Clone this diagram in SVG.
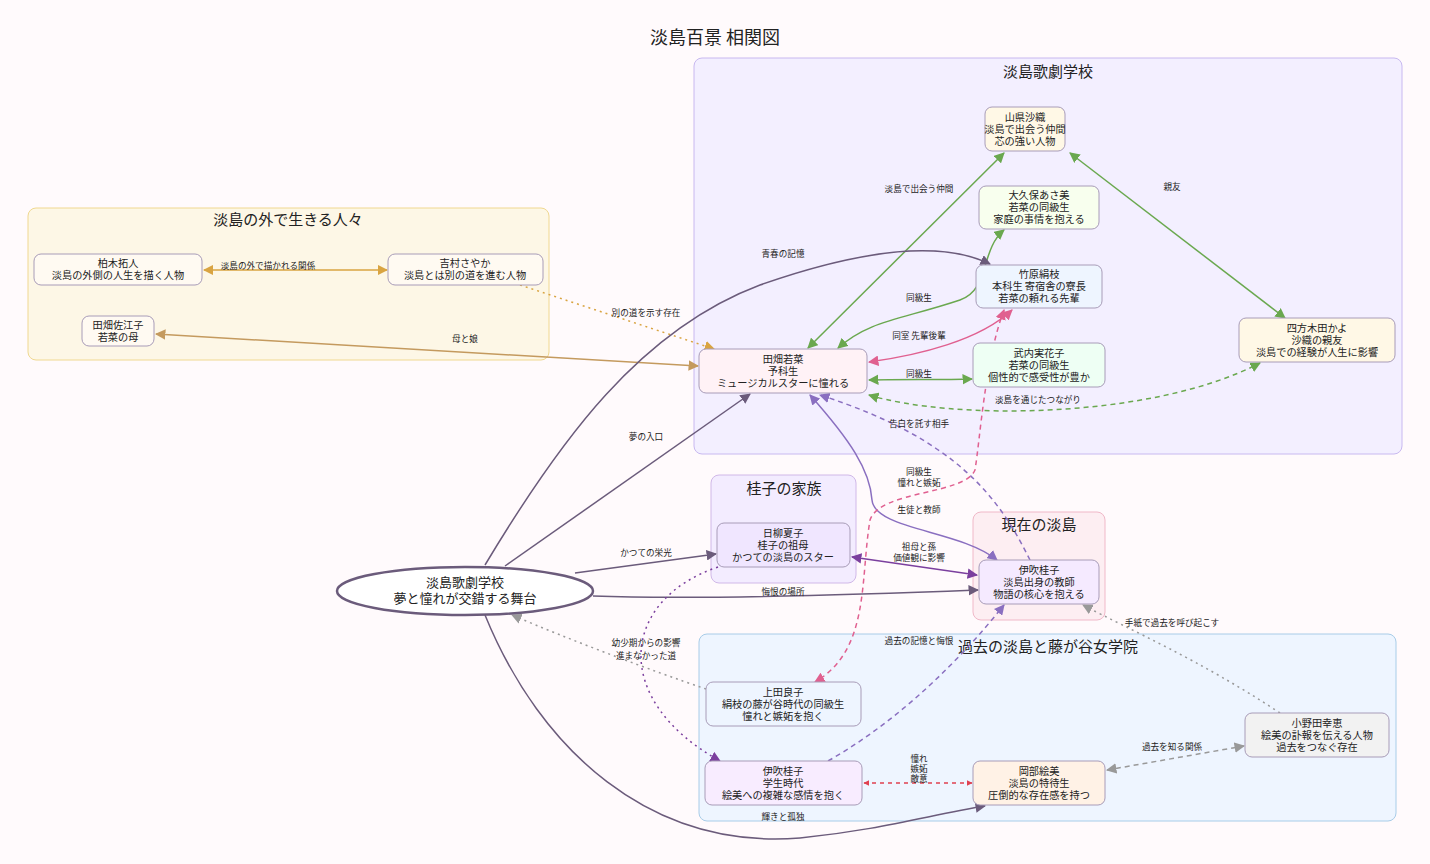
<svg xmlns="http://www.w3.org/2000/svg" width="1430" height="864" viewBox="0 0 1430 864">
<style>
text{font-family:"Noto Sans CJK JP","Noto Sans",sans-serif;fill:#222;text-anchor:middle}
.n{font-size:10.2px}
.l{font-size:8.6px}
.ct{font-size:15px}
.node{stroke:#a89cb8;stroke-width:1}
.e{fill:none;stroke-width:1.5}
</style>
<defs>
<marker id="mD" viewBox="0 0 10 10" refX="9" refY="5" markerWidth="7" markerHeight="7" orient="auto-start-reverse"><path d="M0,0L10,5L0,10z" fill="#6b5b7b"/></marker>
<marker id="mG" viewBox="0 0 10 10" refX="9" refY="5" markerWidth="7" markerHeight="7" orient="auto-start-reverse"><path d="M0,0L10,5L0,10z" fill="#6aa84f"/></marker>
<marker id="mO" viewBox="0 0 10 10" refX="9" refY="5" markerWidth="7" markerHeight="7" orient="auto-start-reverse"><path d="M0,0L10,5L0,10z" fill="#d9a441"/></marker>
<marker id="mT" viewBox="0 0 10 10" refX="9" refY="5" markerWidth="7" markerHeight="7" orient="auto-start-reverse"><path d="M0,0L10,5L0,10z" fill="#c49a5e"/></marker>
<marker id="mP" viewBox="0 0 10 10" refX="9" refY="5" markerWidth="7" markerHeight="7" orient="auto-start-reverse"><path d="M0,0L10,5L0,10z" fill="#e06090"/></marker>
<marker id="mV" viewBox="0 0 10 10" refX="9" refY="5" markerWidth="7" markerHeight="7" orient="auto-start-reverse"><path d="M0,0L10,5L0,10z" fill="#7b3f9e"/></marker>
<marker id="mL" viewBox="0 0 10 10" refX="9" refY="5" markerWidth="7" markerHeight="7" orient="auto-start-reverse"><path d="M0,0L10,5L0,10z" fill="#8a6fc0"/></marker>
<marker id="mR" viewBox="0 0 10 10" refX="9" refY="5" markerWidth="4" markerHeight="4" orient="auto-start-reverse"><path d="M0,0L10,5L0,10z" fill="#e04050"/></marker>
<marker id="mY" viewBox="0 0 10 10" refX="9" refY="5" markerWidth="7" markerHeight="7" orient="auto-start-reverse"><path d="M0,0L10,5L0,10z" fill="#999"/></marker>
</defs>
<rect width="1430" height="864" fill="#fffafc"/>
<text x="715" y="44" style="font-size:18px">淡島百景  相関図</text>
<g id="clusters">
<rect x="694" y="58" width="708" height="396" rx="8" fill="#f3efff" stroke="#c8b8f0"/>
<text class="ct" x="1048" y="77">淡島歌劇学校</text>
<rect x="28" y="208" width="521" height="152" rx="8" fill="#fdf7e6" stroke="#f0d890"/>
<text class="ct" x="288" y="225">淡島の外で生きる人々</text>
<rect x="711" y="475" width="145" height="108" rx="8" fill="#f3ecff" stroke="#d0b8e8"/>
<text class="ct" x="784" y="494">桂子の家族</text>
<rect x="973" y="512" width="132" height="108" rx="8" fill="#fdeef2" stroke="#f0b8c8"/>
<text class="ct" x="1039" y="530">現在の淡島</text>
<rect x="699" y="634" width="697" height="187" rx="8" fill="#eef5ff" stroke="#a8cce8"/>
<text class="ct" x="1048" y="652">過去の淡島と藤が谷女学院</text>
</g>
<g id="edges">
<path class="e" d="M808,348L1004,153" stroke="#6aa84f" marker-start="url(#mG)" marker-end="url(#mG)"/>
<path class="e" d="M1070,153L1285,318" stroke="#6aa84f" stroke-width="2.5" marker-start="url(#mG)" marker-end="url(#mG)"/>
<path class="e" d="M1004,230C980,250 990,290 960,300C900,320 870,320 838,348" stroke="#6aa84f" marker-start="url(#mG)" marker-end="url(#mG)"/>
<path class="e" d="M1012,310C980,340 920,355 869,362" stroke="#e06090" stroke-width="2" marker-start="url(#mP)" marker-end="url(#mP)"/>
<path class="e" d="M869,380C900,379 940,380 972,379" stroke="#6aa84f" stroke-width="2" marker-start="url(#mG)" marker-end="url(#mG)"/>
<path class="e" d="M869,395C950,420 1150,420 1260,363" stroke="#6aa84f" stroke-dasharray="5,4" marker-start="url(#mG)" marker-end="url(#mG)"/>
<path class="e" d="M204,270L387,270" stroke="#d9a441" stroke-width="2" marker-start="url(#mO)" marker-end="url(#mO)"/>
<path class="e" d="M520,285L714,349" stroke="#d9a441" stroke-dasharray="2,4" marker-end="url(#mO)"/>
<path class="e" d="M156,334L698,366" stroke="#c49a5e" stroke-width="2" marker-start="url(#mT)" marker-end="url(#mT)"/>
<path class="e" d="M485,565C560,440 640,330 760,285C860,250 940,240 990,264" stroke="#6b5b7b" stroke-width="2" marker-end="url(#mD)"/>
<path class="e" d="M505,566L750,394" stroke="#6b5b7b" stroke-width="2" marker-end="url(#mD)"/>
<path class="e" d="M575,573L716,554" stroke="#6b5b7b" stroke-width="2" marker-end="url(#mD)"/>
<path class="e" d="M593,596C700,600 850,595 978,590" stroke="#6b5b7b" stroke-width="2" marker-end="url(#mD)"/>
<path class="e" d="M485,615C540,750 650,850 800,838C880,830 930,815 985,806" stroke="#6b5b7b" stroke-width="2" marker-end="url(#mD)"/>
<path class="e" d="M852,557L977,575" stroke="#7b3f9e" stroke-width="2.5" marker-start="url(#mV)" marker-end="url(#mV)"/>
<path class="e" d="M810,395C850,440 870,470 872,500C875,530 960,530 997,560" stroke="#8a6fc0" marker-start="url(#mL)" marker-end="url(#mL)"/>
<path class="e" d="M1030,560C1000,500 960,440 820,395" stroke="#8a6fc0" stroke-dasharray="5,4" marker-end="url(#mL)"/>
<path class="e" d="M1004,310C985,360 980,440 975,470C965,495 880,490 870,520C860,580 870,650 815,682" stroke="#e06090" stroke-dasharray="5,4" marker-start="url(#mP)" marker-end="url(#mP)"/>
<path class="e" d="M828,761C900,720 960,660 1004,605" stroke="#8a6fc0" stroke-dasharray="5,4" marker-end="url(#mL)"/>
<path class="e" d="M718,567C620,600 610,700 720,761" stroke="#7b3f9e" stroke-dasharray="2,4" marker-end="url(#mV)"/>
<path class="e" d="M706,689C650,670 570,640 512,615" stroke="#999" stroke-dasharray="2,4" marker-end="url(#mY)"/>
<path class="e" d="M864,783L972,783" stroke="#e04050" stroke-width="3" stroke-dasharray="4,4" marker-start="url(#mR)" marker-end="url(#mR)"/>
<path class="e" d="M1107,770L1244,746" stroke="#999" stroke-dasharray="5,4" marker-start="url(#mY)" marker-end="url(#mY)"/>
<path class="e" d="M1280,713C1200,660 1130,630 1083,605" stroke="#999" stroke-dasharray="2,4" marker-end="url(#mY)"/>
<text class="l" x="919" y="192">淡島で出会う仲間</text>
<text class="l" x="1172" y="190">親友</text>
<text class="l" x="919" y="301">同級生</text>
<text class="l" x="919" y="339">同室 先輩後輩</text>
<text class="l" x="919" y="377">同級生</text>
<text class="l" x="1038" y="403">淡島を通じたつながり</text>
<text class="l" x="268" y="269">淡島の外で描かれる関係</text>
<text class="l" x="646" y="316">別の道を示す存在</text>
<text class="l" x="465" y="342">母と娘</text>
<text class="l" x="783" y="257">青春の記憶</text>
<text class="l" x="646" y="440">夢の入口</text>
<text class="l" x="646" y="556">かつての栄光</text>
<text class="l" x="783" y="595">悔恨の場所</text>
<text class="l" x="783" y="820">輝きと孤独</text>
<text class="l" x="919" y="550">祖母と孫</text>
<text class="l" x="919" y="561">価値観に影響</text>
<text class="l" x="919" y="513">生徒と教師</text>
<text class="l" x="919" y="427">告白を託す相手</text>
<text class="l" x="919" y="475">同級生</text>
<text class="l" x="919" y="486">憧れと嫉妬</text>
<text class="l" x="919" y="644">過去の記憶と悔恨</text>
<text class="l" x="646" y="646">幼少期からの影響</text>
<text class="l" x="646" y="659">進まなかった道</text>
<text class="l" x="919" y="762">憧れ</text>
<text class="l" x="919" y="772">嫉妬</text>
<text class="l" x="919" y="782">敵意</text>
<text class="l" x="1172" y="750">過去を知る関係</text>
<text class="l" x="1172" y="626">手紙で過去を呼び起こす</text>
</g>
<g id="n1"><rect class="node" x="985" y="107" width="80" height="44" rx="7" fill="#fff8e6"/><text class="n" x="1025" y="121">山県沙織</text><text class="n" x="1025" y="133">淡島で出会う仲間</text><text class="n" x="1025" y="145">芯の強い人物</text></g>
<g id="n2"><rect class="node" x="979" y="186" width="120" height="43" rx="7" fill="#f8ffee"/><text class="n" x="1039" y="199">大久保あさ美</text><text class="n" x="1039" y="211">若菜の同級生</text><text class="n" x="1039" y="223">家庭の事情を抱える</text></g>
<g id="n3"><rect class="node" x="976" y="265" width="126" height="43" rx="7" fill="#eef5ff"/><text class="n" x="1039" y="278">竹原絹枝</text><text class="n" x="1039" y="290">本科生 寄宿舎の寮長</text><text class="n" x="1039" y="302">若菜の頼れる先輩</text></g>
<g id="n4"><rect class="node" x="1239" y="318" width="156" height="44" rx="7" fill="#fff8e6"/><text class="n" x="1317" y="332">四方木田かよ</text><text class="n" x="1317" y="344">沙織の親友</text><text class="n" x="1317" y="356">淡島での経験が人生に影響</text></g>
<g id="n5"><rect class="node" x="973" y="343" width="132" height="44" rx="7" fill="#eefff4"/><text class="n" x="1039" y="357">武内実花子</text><text class="n" x="1039" y="369">若菜の同級生</text><text class="n" x="1039" y="381">個性的で感受性が豊か</text></g>
<g id="n6"><rect class="node" x="699" y="349" width="168" height="44" rx="7" fill="#fff2f6"/><text class="n" x="783" y="363">田畑若菜</text><text class="n" x="783" y="375">予科生</text><text class="n" x="783" y="387">ミュージカルスターに憧れる</text></g>
<g id="n7"><rect class="node" x="34" y="254" width="168" height="31" rx="7" fill="#fffaf2"/><text class="n" x="118" y="267">柏木拓人</text><text class="n" x="118" y="279">淡島の外側の人生を描く人物</text></g>
<g id="n8"><rect class="node" x="388" y="254" width="155" height="31" rx="7" fill="#fffaf2"/><text class="n" x="465" y="267">吉村さやか</text><text class="n" x="465" y="279">淡島とは別の道を進む人物</text></g>
<g id="n9"><rect class="node" x="82" y="316" width="72" height="30" rx="7" fill="#fffaf2"/><text class="n" x="118" y="329">田畑佐江子</text><text class="n" x="118" y="341">若菜の母</text></g>
<g id="n10"><rect class="node" x="717" y="523" width="133" height="44" rx="7" fill="#f0e6ff"/><text class="n" x="783" y="537">日柳夏子</text><text class="n" x="783" y="549">桂子の祖母</text><text class="n" x="783" y="561">かつての淡島のスター</text></g>
<g id="n11"><rect class="node" x="979" y="560" width="120" height="44" rx="7" fill="#f5eaff"/><text class="n" x="1039" y="574">伊吹桂子</text><text class="n" x="1039" y="586">淡島出身の教師</text><text class="n" x="1039" y="598">物語の核心を抱える</text></g>
<g id="n12"><ellipse cx="465" cy="591" rx="128" ry="24" fill="#fff" stroke="#6b5b7b" stroke-width="2.5"/><text x="465" y="587" style="font-size:13px">淡島歌劇学校</text><text x="465" y="603" style="font-size:13px">夢と憧れが交錯する舞台</text></g>
<g id="n13"><rect class="node" x="706" y="682" width="155" height="44" rx="7" fill="#eef5ff"/><text class="n" x="783" y="696">上田良子</text><text class="n" x="783" y="708">絹枝の藤が谷時代の同級生</text><text class="n" x="783" y="720">憧れと嫉妬を抱く</text></g>
<g id="n14"><rect class="node" x="705" y="761" width="157" height="44" rx="7" fill="#f8ecff"/><text class="n" x="783" y="775">伊吹桂子</text><text class="n" x="783" y="787">学生時代</text><text class="n" x="783" y="799">絵美への複雑な感情を抱く</text></g>
<g id="n15"><rect class="node" x="973" y="761" width="132" height="44" rx="7" fill="#fff2e6"/><text class="n" x="1039" y="775">岡部絵美</text><text class="n" x="1039" y="787">淡島の特待生</text><text class="n" x="1039" y="799">圧倒的な存在感を持つ</text></g>
<g id="n16"><rect class="node" x="1245" y="713" width="144" height="44" rx="7" fill="#f2f2f2"/><text class="n" x="1317" y="727">小野田幸恵</text><text class="n" x="1317" y="739">絵美の訃報を伝える人物</text><text class="n" x="1317" y="751">過去をつなぐ存在</text></g>
</svg>
